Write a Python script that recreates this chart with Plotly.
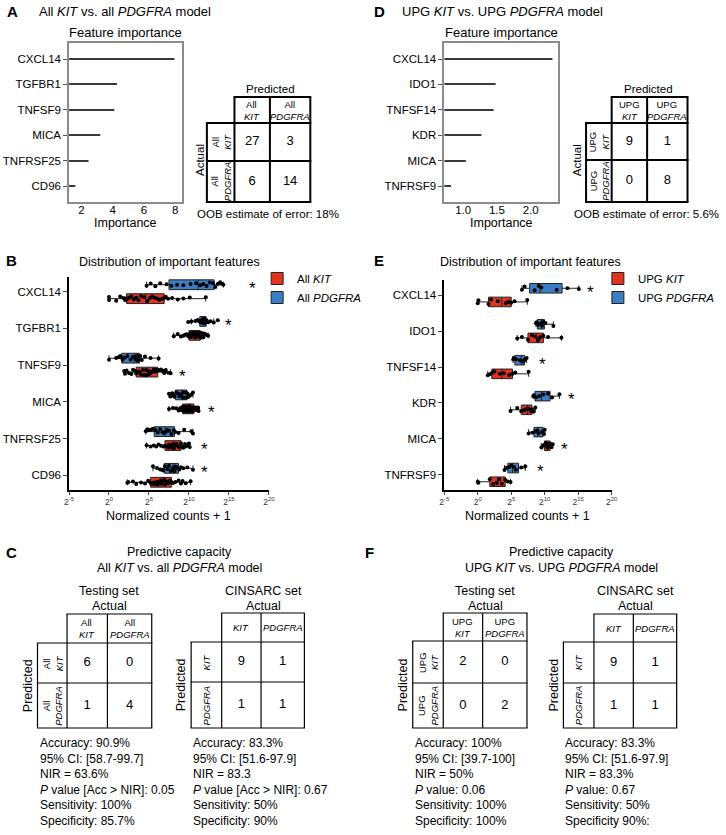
import plotly.graph_objects as go

W, H = 726, 835
FONT = "Liberation Sans, Arial, sans-serif"
RED = "#e2331f"
BLUE = "#3b7ec6"

# A / D : feature importance
genes_A = ["CXCL14", "TGFBR1", "TNFSF9", "MICA", "TNFRSF25", "CD96"]
imp_A = [7.95, 4.27, 4.1, 3.2, 2.45, 1.6]
genes_D = ["CXCL14", "IDO1", "TNFSF14", "KDR", "MICA", "TNFRSF9"]
imp_D = [2.32, 1.48, 1.45, 1.27, 1.04, 0.82]

# OOB confusion matrices (rows = actual, cols = predicted)
cm_A = [[27, 3], [6, 14]]
cm_D = [[9, 1], [0, 8]]
oob_A = "18%"
oob_D = "5.6%"

# B : log2(normalized counts + 1), per gene in genes_A order
b_kit = [
    [0.0, 0.0, 0.9, 1.4, 1.8, 2.0, 2.1, 2.2, 2.5, 2.8, 3.1, 3.4, 3.7, 4.0, 4.4, 4.8, 5.1, 5.4, 5.7, 6.0, 6.3, 6.6, 6.9, 7.1, 7.4, 7.9, 8.6, 9.3, 10.1, 12.1],
    [8.1, 8.6, 9.0, 9.3, 9.5, 9.7, 9.9, 10.0, 10.1, 10.2, 10.3, 10.4, 10.5, 10.6, 10.7, 10.8, 10.9, 11.0, 11.0, 11.1, 11.2, 11.3, 11.4, 11.5, 11.6, 11.7, 11.8, 12.0, 12.2, 12.4],
    [1.9, 2.0, 2.2, 2.5, 2.8, 3.0, 3.2, 3.4, 3.6, 3.8, 4.0, 4.2, 4.4, 4.6, 4.7, 4.9, 5.0, 5.2, 5.4, 5.6, 5.8, 5.9, 6.1, 6.3, 6.5, 6.7, 6.9, 7.1, 7.4, 7.7],
    [7.5, 8.0, 8.4, 8.7, 8.9, 9.0, 9.1, 9.2, 9.3, 9.4, 9.5, 9.6, 9.7, 9.8, 9.85, 9.9, 10.0, 10.1, 10.2, 10.3, 10.4, 10.5, 10.6, 10.7, 10.8, 10.9, 11.0, 11.1, 11.15, 11.2],
    [4.7, 5.2, 5.6, 5.9, 6.2, 6.5, 6.8, 7.0, 7.2, 7.4, 7.5, 7.6, 7.7, 7.8, 8.0, 8.1, 8.2, 8.3, 8.4, 8.5, 8.7, 8.9, 9.0, 9.2, 9.3, 9.5, 9.6, 9.8, 10.0, 10.1],
    [2.3, 2.4, 3.0, 3.4, 4.0, 4.5, 4.9, 5.2, 5.4, 5.6, 5.8, 6.0, 6.1, 6.3, 6.4, 6.6, 6.7, 6.9, 7.0, 7.2, 7.4, 7.6, 7.8, 8.0, 8.3, 8.7, 9.0, 9.2, 9.6, 10.2],
]
b_pdgfra = [
    [4.7, 5.2, 5.8, 6.4, 7.2, 7.8, 8.5, 9.3, 10.2, 10.9, 11.4, 11.8, 12.2, 12.6, 13.0, 13.3, 13.6, 13.9, 14.1, 14.3],
    [9.9, 10.3, 10.8, 11.1, 11.3, 11.4, 11.5, 11.6, 11.7, 11.8, 11.8, 11.9, 12.0, 12.0, 12.1, 12.2, 12.4, 12.7, 13.1, 13.6],
    [0.0, 0.9, 1.2, 1.4, 1.5, 1.7, 2.0, 2.3, 2.7, 3.0, 3.3, 3.4, 3.5, 3.6, 3.7, 3.9, 4.1, 4.5, 5.2, 6.2],
    [7.5, 7.7, 7.9, 8.1, 8.2, 8.4, 8.6, 8.8, 8.9, 9.0, 9.2, 9.3, 9.4, 9.6, 9.7, 9.8, 9.9, 10.1, 10.3, 10.5],
    [4.6, 4.8, 5.0, 5.3, 5.5, 5.8, 6.1, 6.4, 6.7, 6.9, 7.1, 7.3, 7.5, 7.8, 8.1, 8.3, 8.7, 9.4, 10.3, 10.5],
    [5.5, 6.0, 6.4, 6.7, 6.8, 7.0, 7.3, 7.5, 7.7, 7.9, 8.1, 8.2, 8.3, 8.5, 8.6, 8.8, 9.0, 9.3, 9.8, 10.5],
]
b_star_genes = ["CXCL14", "TGFBR1", "TNFSF9", "MICA", "TNFRSF25", "CD96"]
b_star_x = [17.95, 15.0, 9.2, 12.8, 11.9, 11.9]
b_star_grp = ["PDGFRA", "PDGFRA", "KIT", "KIT", "KIT", "PDGFRA"]

# E : same, genes_D order
e_kit = [
    [0.0, 0.1, 1.6, 2.0, 3.0, 4.2, 4.6, 5.0, 5.5, 7.4],
    [5.9, 6.6, 7.5, 8.1, 8.6, 9.0, 9.3, 9.8, 10.5, 12.5],
    [1.5, 1.8, 2.1, 2.5, 3.3, 3.9, 4.7, 5.2, 5.6, 7.6],
    [4.9, 5.9, 6.5, 6.9, 7.2, 7.6, 7.9, 8.1, 8.3, 8.6],
    [9.5, 9.8, 9.95, 10.2, 10.3, 10.4, 10.6, 10.8, 11.0, 11.2],
    [0.0, 0.1, 1.8, 2.3, 2.8, 3.2, 3.6, 4.1, 4.5, 4.9],
]
e_pdgfra = [
    [6.6, 7.0, 8.5, 9.1, 9.5, 11.8, 13.4, 15.1],
    [8.7, 8.8, 9.0, 9.4, 9.6, 9.8, 10.1, 11.3],
    [5.3, 5.4, 5.7, 6.3, 6.7, 6.9, 7.1, 7.3],
    [8.3, 8.4, 8.7, 9.2, 9.8, 10.5, 11.1, 12.2],
    [7.6, 8.2, 8.6, 8.9, 9.1, 9.6, 9.9, 10.0],
    [4.0, 4.3, 4.7, 5.0, 5.4, 5.7, 6.5, 7.1],
]
e_star_genes = ["CXCL14", "TNFSF14", "KDR", "MICA", "TNFRSF9"]
e_star_x = [16.8, 9.7, 14.0, 13.0, 9.3]
e_star_grp = ["PDGFRA", "PDGFRA", "PDGFRA", "KIT", "PDGFRA"]

log2_ticks = [-5, 0, 5, 10, 15, 20]

# C / F : predictive capacity (rows = predicted, cols = actual)
cm_C_test = [[6, 0], [1, 4]]
cm_C_cins = [[9, 1], [1, 1]]
cm_F_test = [[2, 0], [0, 2]]
cm_F_cins = [[9, 1], [1, 1]]
stats_C_test = ["Accuracy: 90.9%", "95% CI: [58.7-99.7]", "NIR = 63.6%",
                "<i>P</i> value [Acc &gt; NIR]: 0.05", "Sensitivity: 100%", "Specificity: 85.7%"]
stats_C_cins = ["Accuracy: 83.3%", "95% CI: [51.6-97.9]", "NIR = 83.3",
                "<i>P</i> value [Acc &gt; NIR]: 0.67", "Sensitivity: 50%", "Specificity: 90%"]
stats_F_test = ["Accuracy: 100%", "95% CI: [39.7-100]", "NIR = 50%",
                "<i>P</i> value: 0.06", "Sensitivity: 100%", "Specificity: 100%"]
stats_F_cins = ["Accuracy: 83.3%", "95% CI: [51.6-97.9]", "NIR = 83.3%",
                "<i>P</i> value: 0.67", "Sensitivity: 50%", "Specificity 90%:"]


def dx(px):
    return px / W


def dy(py):
    return 1 - py / H


fig = go.Figure()

# pixel overlay axis used for the tables and free text
PX = dict(xref="x7", yref="y7")


def text(x, y, s, size=12, **kw):
    fig.add_annotation(x=x, y=y, text=s, showarrow=False, **PX,
                       font=dict(family=FONT, size=size, color="black"), **kw)


def matrix(xe, ye, col_heads, row_heads, vals, lw=2, head_size=9.5, val_size=13):
    xl, x0, x1, x2 = xe
    yt, y0, y1, y2 = ye
    h = lw / 2
    segs = [(xl - h, y0, x2 + h, y0), (xl - h, y1, x2 + h, y1), (xl - h, y2, x2 + h, y2),
            (x0 - h, yt, x2 + h, yt), (xl, y0, xl, y2), (x0, yt, x0, y2),
            (x1, yt, x1, y2), (x2, yt, x2, y2)]
    for a, b, c, d in segs:
        fig.add_shape(type="line", x0=a, y0=b, x1=c, y1=d, **PX,
                      line=dict(color="black", width=lw))
    cx = [(x0 + x1) / 2, (x1 + x2) / 2]
    cy = [(y0 + y1) / 2, (y1 + y2) / 2]
    fig.add_trace(go.Scatter(
        x=[cx[j] for i in range(2) for j in range(2)],
        y=[cy[i] for i in range(2) for j in range(2)],
        text=[str(vals[i][j]) for i in range(2) for j in range(2)],
        mode="text", textfont=dict(family=FONT, size=val_size, color="black"),
        xaxis="x7", yaxis="y7", showlegend=False, hoverinfo="skip"))
    for j, t in enumerate(col_heads):
        text(cx[j], (yt + y0) / 2, t, head_size)
    for i, t in enumerate(row_heads):
        text((xl + x0) / 2, cy[i], t, head_size, textangle=-90)


# ---------- A / D feature importance ----------
def importance(genes, vals, xr, xa, ya):
    fig.add_trace(go.Bar(y=genes, x=[v - xr[0] for v in vals], base=xr[0], orientation="h",
                         width=0.045, marker=dict(color="#3a3a3a", line=dict(width=0)),
                         xaxis=xa, yaxis=ya, showlegend=False, hoverinfo="skip"))


importance(genes_A, imp_A, [1.2, 8.45], "x", "y")
importance(genes_D, imp_D, [0.72, 2.41], "x2", "y2")

frame = dict(showline=True, mirror=True, linecolor="#8c8c8c", linewidth=1.5,
             showgrid=False, zeroline=False)
tickf = dict(family=FONT, size=11.5, color="black")
fig.update_layout(
    xaxis=dict(domain=[dx(65), dx(180)], range=[1.2, 8.45], anchor="y", tickvals=[2, 4, 6, 8],
               tickfont=tickf, ticks="", ticklabelstandoff=-4, **frame),
    yaxis=dict(domain=[dy(202), dy(43)], anchor="x", type="category", categoryorder="array",
               categoryarray=genes_A, range=[5.63, -0.63], ticks="outside", ticklen=4,
               tickcolor="#555", tickfont=tickf, **frame),
    xaxis2=dict(domain=[dx(446), dx(562)], range=[0.72, 2.41], anchor="y2",
                tickvals=[1.0, 1.5, 2.0], ticktext=["1.0", "1.5", "2.0"],
                tickfont=tickf, ticks="", ticklabelstandoff=-4, **frame),
    yaxis2=dict(domain=[dy(202), dy(43)], anchor="x2", type="category", categoryorder="array",
                categoryarray=genes_D, range=[5.63, -0.63], ticks="outside", ticklen=4,
                tickcolor="#555", tickfont=tickf, **frame),
    xaxis5=dict(overlaying="x", side="top", anchor="y", range=[1.2, 8.45], tickvals=[2, 4, 6, 8],
                ticks="outside", ticklen=3, tickcolor="#555", showticklabels=False,
                showgrid=False, zeroline=False),
    xaxis6=dict(overlaying="x2", side="top", anchor="y2", range=[0.72, 2.41],
                tickvals=[1.0, 1.5, 2.0], ticks="outside", ticklen=3, tickcolor="#555",
                showticklabels=False, showgrid=False, zeroline=False),
)

# ---------- B / E boxplots ----------
def boxes(genes, kit, pdg, names, xa, ya, legend, group):
    for vals, name, color, rank, og in [(pdg, names[1], BLUE, 2, "pdg"), (kit, names[0], RED, 1, "kit")]:
        xs, ys = [], []
        for g, v in zip(genes, vals):
            xs += v
            ys += [g] * len(v)
        fig.add_trace(go.Box(
            x=xs, y=ys, orientation="h", name=name, legendrank=rank, legend=legend,
            alignmentgroup=group, offsetgroup=group + og,
            fillcolor=color, line=dict(color="#222", width=1),
            marker=dict(color="black", size=4), boxpoints="all", jitter=0.6, pointpos=0,
            whiskerwidth=0.6, xaxis=xa, yaxis=ya, hoverinfo="skip"))


boxes(genes_A, b_kit, b_pdgfra, ["All <i>KIT</i>", "All <i>PDGFRA</i>"], "x3", "y3", "legend", "B")
boxes(genes_D, e_kit, e_pdgfra, ["UPG <i>KIT</i>", "UPG <i>PDGFRA</i>"], "x4", "y4", "legend2", "E")

box_x = dict(range=[-5, 20], tickvals=log2_ticks,
             ticktext=["2<sup>%d</sup>" % t for t in log2_ticks],
             tickfont=dict(family=FONT, size=8.5, color="#333"), showline=True,
             linecolor="black", linewidth=1.5, ticks="outside", ticklen=3,
             showgrid=False, zeroline=False)
box_y = dict(type="category", categoryorder="array", showline=True, linecolor="black",
             linewidth=1.5, ticks="outside", ticklen=4, tickfont=tickf,
             showgrid=False, zeroline=False)
fig.update_layout(
    xaxis3=dict(domain=[dx(65), dx(268)], anchor="y3", **box_x),
    yaxis3=dict(domain=[dy(490), dy(277)], anchor="x3", categoryarray=genes_A,
                range=[5.4, -0.4], **box_y),
    xaxis4=dict(domain=[dx(446), dx(616)], anchor="y4", **box_x),
    yaxis4=dict(domain=[dy(490), dy(280)], anchor="x4", categoryarray=genes_D,
                range=[5.42, -0.42], **box_y),
    boxmode="group", boxgap=0.24, boxgroupgap=0.3,
)

for genes, xs, grps, xa, ya in [(b_star_genes, b_star_x, b_star_grp, "x3", "y3"),
                                (e_star_genes, e_star_x, e_star_grp, "x4", "y4")]:
    for g, x, grp in zip(genes, xs, grps):
        fig.add_annotation(x=x, y=g, xref=xa, yref=ya, text="*", showarrow=False,
                           yshift=3 if grp == "PDGFRA" else -11,
                           font=dict(family=FONT, size=17, color="black"))

# pixel overlay axis
fig.update_layout(
    xaxis7=dict(domain=[0, 1], range=[0, W], visible=False, anchor="y7", fixedrange=True),
    yaxis7=dict(domain=[0, 1], range=[H, 0], visible=False, anchor="x7", fixedrange=True),
)

# ---------- panel texts ----------
for x, s in [(8, "A"), (380, "D")]:
    text(x, 11, "<b>%s</b>" % s, 15)
text(32, 11, "All <i>KIT</i> vs. all <i>PDGFRA</i> model", 13, xanchor="left")
text(401, 11, "UPG <i>KIT</i> vs. UPG <i>PDGFRA</i> model", 13, xanchor="left")
for cx in [122, 504]:
    text(cx, 32, "Feature importance", 13)
    text(cx, 223, "Importance", 12.5)

matrix([205, 233, 269, 310], [97, 123, 161, 202],
       ["All<br><i>KIT</i>", "All<br><i>PDGFRA</i>"],
       ["All<br><i>KIT</i>", "All<br><i>PDGFRA</i>"], cm_A)
text(270, 89, "Predicted", 11.5)
text(198, 160, "Actual", 11.5, textangle=-90)
text(193, 214, "OOB estimate of error: " + oob_A, 11.5, xanchor="left")

matrix([590, 616, 652, 693], [97, 123, 160, 202],
       ["UPG<br><i>KIT</i>", "UPG<br><i>PDGFRA</i>"],
       ["UPG<br><i>KIT</i>", "UPG<br><i>PDGFRA</i>"], cm_D)
text(653, 89, "Predicted", 11.5)
text(581, 160, "Actual", 11.5, textangle=-90)
text(576, 214, "OOB estimate of error: " + oob_D, 11.5, xanchor="left")

text(7, 260, "<b>B</b>", 15)
text(380, 260, "<b>E</b>", 15)
text(167, 262, "Distribution of important features", 12.5)
text(534, 262, "Distribution of important features", 12.5)
text(166, 516, "Normalized counts + 1", 12.5)
text(531, 516, "Normalized counts + 1", 12.5)

fig.update_layout(
    legend=dict(x=dx(256), y=dy(264), xanchor="left", yanchor="top", bgcolor="rgba(0,0,0,0)",
                font=dict(family=FONT, size=11.5, color="black"), tracegroupgap=0),
    legend2=dict(x=dx(602), y=dy(264), xanchor="left", yanchor="top", bgcolor="rgba(0,0,0,0)",
                 font=dict(family=FONT, size=11.5, color="black"), tracegroupgap=0),
)

# ---------- C / F ----------
text(7, 552, "<b>C</b>", 15)
text(370, 552, "<b>F</b>", 15)
text(177, 552, "Predictive capacity", 12.5)
text(177, 568, "All <i>KIT</i> vs. all <i>PDGFRA</i> model", 12.5)
text(565, 552, "Predictive capacity", 12.5)
text(565, 568, "UPG <i>KIT</i> vs. UPG <i>PDGFRA</i> model", 12.5)


def cblock(xe, ye, heads, vals, title, stats):
    matrix(xe, ye, heads, heads, vals, lw=1.2, head_size=9.5, val_size=13)
    cxm = (xe[1] + xe[3]) / 2
    text(cxm, 591, title, 12.5)
    text(cxm, 606, "Actual", 12.5)
    text(xe[0] - 10, (ye[1] + ye[3]) / 2, "Predicted", 12.5, textangle=-90)
    text(xe[0], 734, "<br>".join(stats), 12, xanchor="left", yanchor="top", align="left")


cblock([33, 63, 104, 149], [614, 643, 683, 728],
       ["All<br><i>KIT</i>", "All<br><i>PDGFRA</i>"], cm_C_test, "Testing set", stats_C_test)
cblock([189, 220, 260, 304], [613, 642, 682, 728],
       ["<i>KIT</i>", "<i>PDGFRA</i>"], cm_C_cins, "CINSARC set", stats_C_cins)
cblock([414, 445, 485, 530], [613, 641, 683, 728],
       ["UPG<br><i>KIT</i>", "UPG<br><i>PDGFRA</i>"], cm_F_test, "Testing set", stats_F_test)
cblock([567, 598, 638, 682], [614, 642, 683, 728],
       ["<i>KIT</i>", "<i>PDGFRA</i>"], cm_F_cins, "CINSARC set", stats_F_cins)

fig.update_layout(
    width=W, height=H, autosize=False, margin=dict(l=0, r=0, t=0, b=0),
    paper_bgcolor="white", plot_bgcolor="rgba(0,0,0,0)",
    font=dict(family=FONT, color="black"),
)

fig.write_html("out.html", config={"displayModeBar": False},
               post_script="document.body.style.margin='0px';")
